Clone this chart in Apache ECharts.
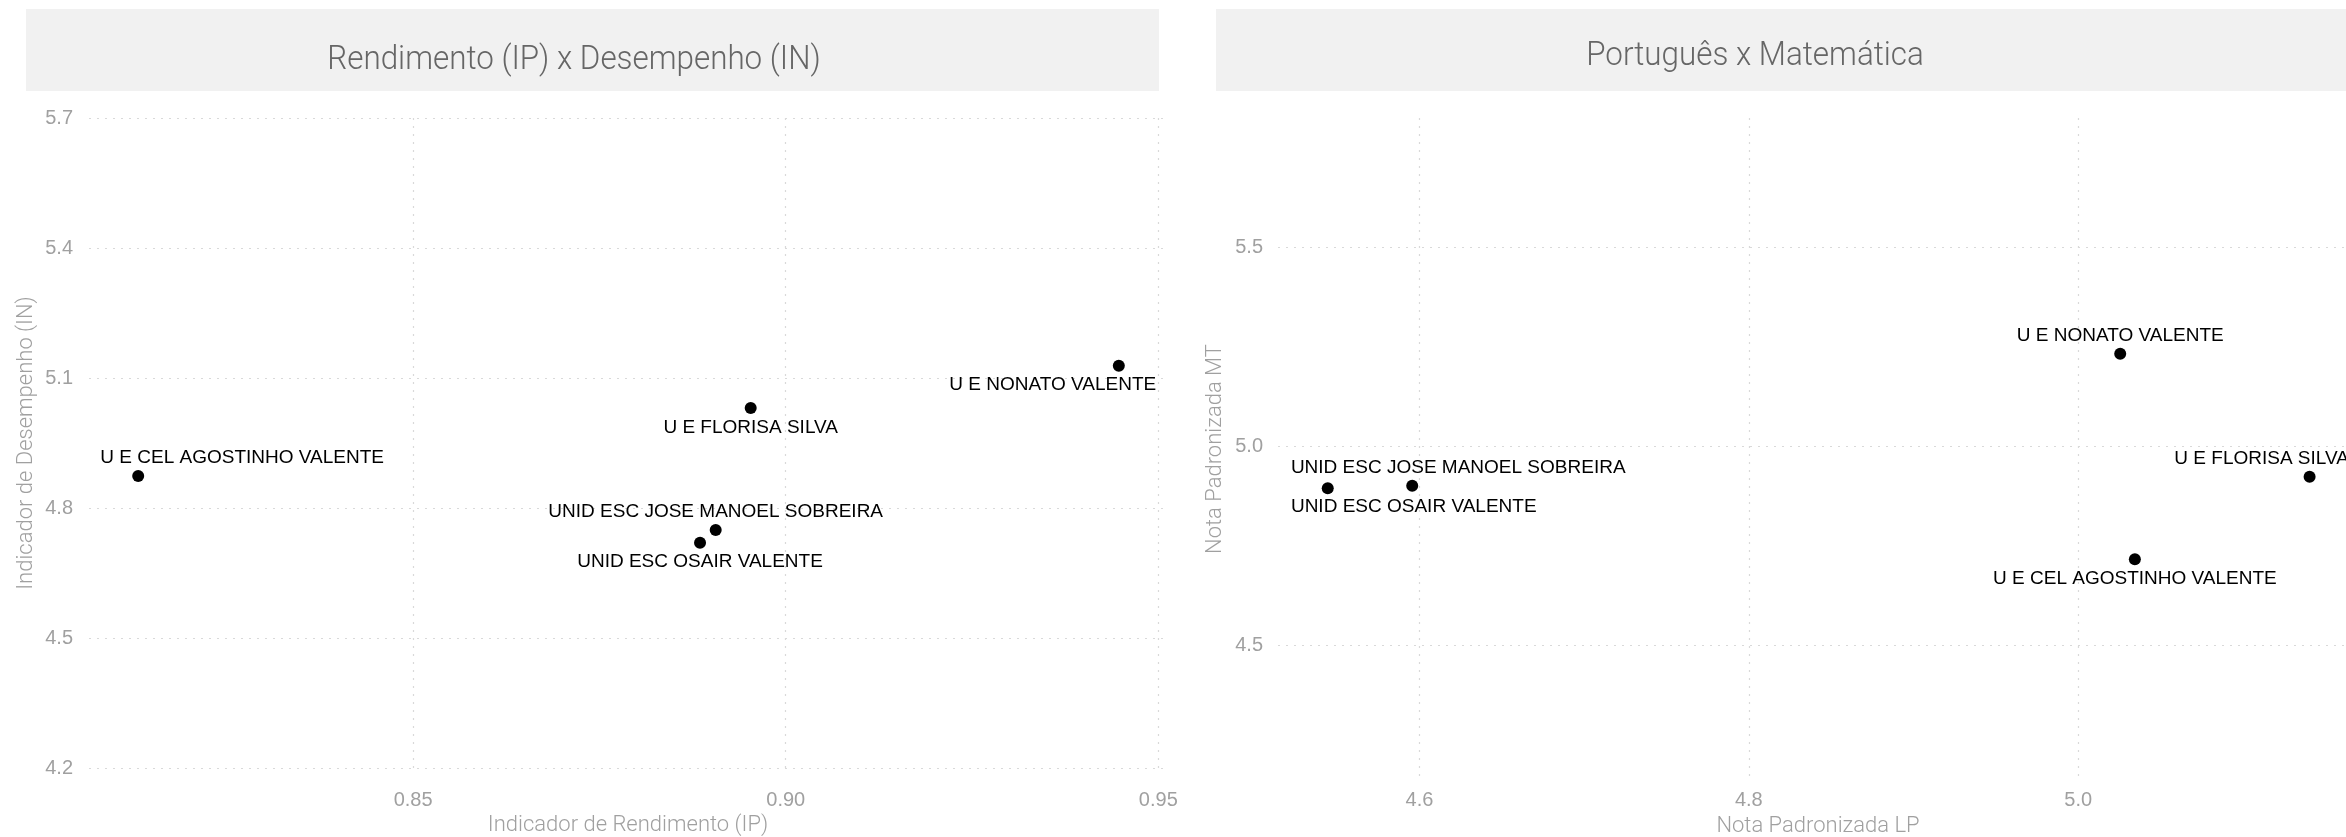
<!DOCTYPE html>
<html><head><meta charset="utf-8">
<script src="https://cdn.jsdelivr.net/npm/echarts@6/dist/echarts.min.js"></script>
<style>html,body{margin:0;padding:0;background:#fff}#c{width:2346px;height:837px}</style>
</head><body><div id="c"></div>
<script>
// ---- data ----
const schools = ["U E NONATO VALENTE", "U E FLORISA SILVA", "U E CEL AGOSTINHO VALENTE", "UNID ESC JOSE MANOEL SOBREIRA", "UNID ESC OSAIR VALENTE"];
const ipValues = [0.9447, 0.8953, 0.8131, 0.8906, 0.8885];
const inValues = [5.128, 5.031, 4.874, 4.749, 4.720];
const lpValues = [5.0255, 5.1405, 5.0344, 4.5956, 4.5443];
const mtValues = [5.232, 4.923, 4.716, 4.9005, 4.894];
const ipTicks = [0.85, 0.90, 0.95];
const inTicks = [4.2, 4.5, 4.8, 5.1, 5.4, 5.7];
const lpTicks = [4.6, 4.8, 5.0];
const mtTicks = [4.5, 5.0, 5.5];
const panelTitles = ["Rendimento (IP) x Desempenho (IN)", "Português x Matemática"];
const axisTitles = ["Indicador de Rendimento (IP)", "Indicador de Desempenho (IN)", "Nota Padronizada LP", "Nota Padronizada MT"];

// ---- styling (label offsets relative to each point) ----
const leftLabelOffsets = [[-66, 19], [0, 20], [104, -18], [0, -18], [0, 19]];
const rightLabelOffsets = [[0, -18], [-48, -18], [0, 20], [46, -18], [86, 18]];

const tickColor = '#a0a0a0';
const gridLine = { show: true, showMinLine: true, showMaxLine: true, lineStyle: { color: '#d9d9d9', width: 1.2, type: [2, 6] } };
const lightFont = 'Roboto';

function axisCfg(idx, min, max, ticks, digits, margin) {
  return {
    gridIndex: idx, type: 'value', min: min, max: max, scale: true,
    axisLine: { show: false },
    axisTick: { show: false, customValues: ticks },
    axisLabel: { customValues: ticks, color: tickColor, fontSize: 20, fontFamily: 'Liberation Sans, Arial, sans-serif', margin: margin,
      formatter: v => Number(v).toFixed(digits), showMinLabel: true, showMaxLabel: true },
    splitLine: gridLine
  };
}

function points(xs, ys, offsets) {
  return schools.map((s, i) => ({
    name: s, value: [xs[i], ys[i]],
    label: { offset: offsets[i] }
  }));
}

const seriesBase = {
  type: 'scatter', symbolSize: 12, itemStyle: { color: '#000', opacity: 1 },
  label: { show: true, position: 'inside', formatter: '{b}', color: '#000', textBorderWidth: 0, fontSize: 19, fontFamily: 'Liberation Sans, Arial, sans-serif' },
  emphasis: { disabled: true }, silent: true, animation: false
};

const chart = echarts.init(document.getElementById('c'), null, { renderer: 'canvas' });
chart.setOption({
  animation: false,
  grid: [
    { left: 89, top: 118, width: 1079, height: 650 },
    { left: 1278, top: 118, width: 1068, height: 661 }
  ],
  xAxis: [
    axisCfg(0, 0.8065, 0.9513, ipTicks, 2, 22),
    axisCfg(1, 4.5141, 5.1626, lpTicks, 1, 11)
  ],
  yAxis: [
    axisCfg(0, 4.2, 5.7, inTicks, 1, 16),
    axisCfg(1, 4.164, 5.824, mtTicks, 1, 15)
  ],
  series: [
    Object.assign({}, seriesBase, { xAxisIndex: 0, yAxisIndex: 0, data: points(ipValues, inValues, leftLabelOffsets) }),
    Object.assign({}, seriesBase, { xAxisIndex: 1, yAxisIndex: 1, data: points(lpValues, mtValues, rightLabelOffsets) })
  ],
  graphic: [
    { type: 'rect', shape: { x: 26, y: 9, width: 1133, height: 82 }, style: { fill: '#f1f1f1' }, z: -10 },
    { type: 'rect', shape: { x: 1216, y: 9, width: 1130, height: 82 }, style: { fill: '#f1f1f1' }, z: -10 },
    { type: 'text', x: 574, y: 61, scaleX: 0.98, scaleY: 1.05, style: { text: panelTitles[0], fill: '#666', font: '300 32px ' + lightFont, align: 'center', verticalAlign: 'middle' } },
    { type: 'text', x: 1755, y: 57, scaleX: 0.98, scaleY: 1.05, style: { text: panelTitles[1], fill: '#666', font: '300 32px ' + lightFont, align: 'center', verticalAlign: 'middle' } },
    { type: 'text', x: 628, y: 825, style: { text: axisTitles[0], fill: tickColor, font: '300 22px ' + lightFont, align: 'center', verticalAlign: 'middle' } },
    { type: 'text', x: 26, y: 443, rotation: Math.PI / 2, style: { text: axisTitles[1], fill: tickColor, font: '300 22px ' + lightFont, align: 'center', verticalAlign: 'middle' } },
    { type: 'text', x: 1818, y: 826, style: { text: axisTitles[2], fill: tickColor, font: '300 22px ' + lightFont, align: 'center', verticalAlign: 'middle' } },
    { type: 'text', x: 1215, y: 449, rotation: Math.PI / 2, style: { text: axisTitles[3], fill: tickColor, font: '300 22px ' + lightFont, align: 'center', verticalAlign: 'middle' } }
  ]
});
</script></body></html>
